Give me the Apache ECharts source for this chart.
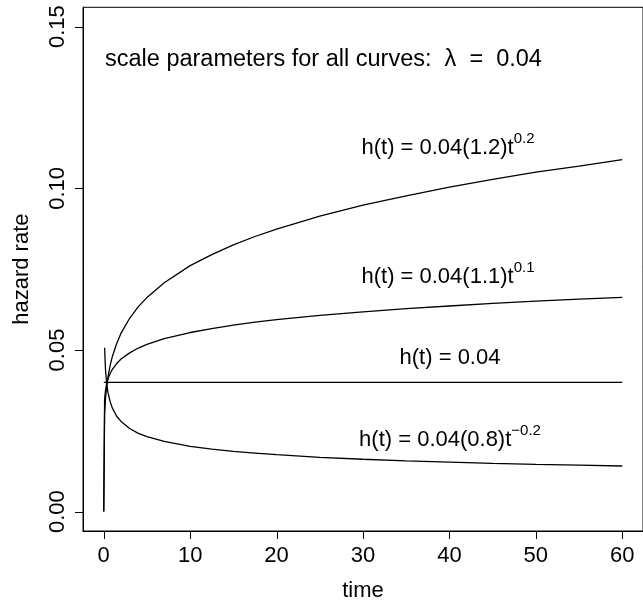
<!DOCTYPE html>
<html><head><meta charset="utf-8">
<script src="https://cdn.jsdelivr.net/npm/echarts@6/dist/echarts.min.js"></script>
<style>html,body{margin:0;padding:0;background:#fff}#c{width:643px;height:607px}</style>
</head><body><div id="c"></div>
<script>
// time points (t)
const times = [0, 0.1, 0.2, 0.3, 0.4, 0.5, 0.75, 1, 1.5, 2, 3, 4, 5, 7, 10, 12.5, 15, 17.5, 20, 25, 30, 35, 40, 45, 50, 55, 60];
// h(t) = 0.04(1.2)t^0.2
const hShape12 = [0, 0.0303, 0.0348, 0.0377, 0.0400, 0.0418, 0.0453, 0.0480, 0.0520, 0.0552, 0.0598, 0.0634, 0.0662, 0.0708, 0.0761, 0.0795, 0.0825, 0.0851, 0.0874, 0.0914, 0.0948, 0.0977, 0.1004, 0.1028, 0.1050, 0.1069, 0.1089];
// h(t) = 0.04(1.1)t^0.1
const hShape11 = [0, 0.0349, 0.0374, 0.0390, 0.0401, 0.0411, 0.0428, 0.0440, 0.0458, 0.0472, 0.0491, 0.0506, 0.0517, 0.0535, 0.0554, 0.0566, 0.0577, 0.0586, 0.0594, 0.0607, 0.0618, 0.0628, 0.0636, 0.0644, 0.0651, 0.0657, 0.0663];
// h(t) = 0.04
const hShape10 = [0.04, 0.04, 0.04, 0.04, 0.04, 0.04, 0.04, 0.04, 0.04, 0.04, 0.04, 0.04, 0.04, 0.04, 0.04, 0.04, 0.04, 0.04, 0.04, 0.04, 0.04, 0.04, 0.04, 0.04, 0.04, 0.04, 0.04];
// h(t) = 0.04(0.8)t^-0.2  (undefined at t = 0)
const hShape08 = [null, 0.0507, 0.0441, 0.0407, 0.0384, 0.0367, 0.0339, 0.0320, 0.0295, 0.0279, 0.0257, 0.0242, 0.0232, 0.0217, 0.0202, 0.0193, 0.0186, 0.0181, 0.0176, 0.0168, 0.0162, 0.0157, 0.0153, 0.0149, 0.0146, 0.0144, 0.0141];
// tick labels
const xTicks = [0, 10, 20, 30, 40, 50, 60];
const yTicks = [0, 0.05, 0.10, 0.15];

const FONT = 'Liberation Sans, Arial, Helvetica, sans-serif';
const pairs = arr => times.map((t, i) => arr[i] == null ? null : [t, arr[i]]).filter(p => p);

const supStyle = { fontSize: 15, fontFamily: FONT, fill: '#000', padding: [0, 0, 18, 0] };
const mainStyle = { fontSize: 22, fontFamily: FONT, fill: '#000' };
function label(x, y, parts) {
  return {
    type: 'text', x: x, y: y, silent: true,
    style: {
      text: parts, fontSize: 22, fontFamily: FONT, fill: '#000',
      textAlign: 'center', textVerticalAlign: 'middle',
      rich: { m: mainStyle, s: supStyle }
    }
  };
}

const chart = echarts.init(document.getElementById('c'), null, { renderer: 'canvas' });
const lineStyle = { color: '#000', width: 1.3 };
const XMIN = -2.4, YMIN = -0.006;
chart.setOption({
  animation: false,
  backgroundColor: '#fff',
  grid: { left: 83, top: 7.3, width: 562, height: 531, show: true, borderColor: '#000', borderWidth: 1, backgroundColor: 'transparent' },
  xAxis: {
    type: 'value', min: XMIN, max: 62.4, position: 'bottom',
    name: 'time', nameLocation: 'middle', nameGap: 49,
    nameTextStyle: { fontSize: 22, fontFamily: FONT, color: '#000' },
    axisLine: { show: true, onZero: false, lineStyle: { color: '#000', width: 1 } },
    axisTick: { show: false },
    axisLabel: { customValues: xTicks, fontSize: 22, fontFamily: FONT, color: '#000', margin: 14 },
    splitLine: { show: false }
  },
  yAxis: {
    type: 'value', min: YMIN, max: 0.156, position: 'left',
    name: 'hazard rate', nameLocation: 'middle', nameGap: 50,
    nameTextStyle: { fontSize: 22, fontFamily: FONT, color: '#000' },
    axisLine: { show: true, onZero: false, lineStyle: { color: '#000', width: 1 } },
    axisTick: { show: false },
    axisLabel: { customValues: yTicks, rotate: 90, fontSize: 22, fontFamily: FONT, color: '#000', margin: 14,
      formatter: v => v.toFixed(2) },
    splitLine: { show: false }
  },
  series: [
    { type: 'line', data: pairs(hShape12), showSymbol: false, lineStyle: lineStyle, silent: true },
    { type: 'line', data: pairs(hShape11), showSymbol: false, lineStyle: lineStyle, silent: true },
    { type: 'line', data: pairs(hShape10), showSymbol: false, lineStyle: lineStyle, silent: true },
    { type: 'line', data: pairs(hShape08), showSymbol: false, lineStyle: lineStyle, silent: true }
  ]
});

// tick marks placed through the axes' own scales
const tickLen = 8;
const tickEls = [];
xTicks.forEach(v => {
  const p = chart.convertToPixel({ gridIndex: 0 }, [v, YMIN]);
  const x = Math.round(p[0]) + 0.5;
  tickEls.push({ type: 'line', silent: true, shape: { x1: x, y1: p[1], x2: x, y2: p[1] + tickLen }, style: { stroke: '#000', lineWidth: 1 } });
});
yTicks.forEach(v => {
  const p = chart.convertToPixel({ gridIndex: 0 }, [XMIN, v]);
  const y = Math.round(p[1]) + 0.5;
  tickEls.push({ type: 'line', silent: true, shape: { x1: p[0] - tickLen, y1: y, x2: p[0], y2: y }, style: { stroke: '#000', lineWidth: 1 } });
});

chart.setOption({
  graphic: tickEls.concat([
    { type: 'text', x: 105, y: 60, silent: true,
      style: { text: 'scale parameters for all curves:  λ  =  0.04', fontSize: 23.5, fontFamily: FONT, fill: '#000', textAlign: 'left', textVerticalAlign: 'middle' } },
    label(448, 148, '{m|h(t) = 0.04(1.2)t}{s|0.2}'),
    label(448, 277, '{m|h(t) = 0.04(1.1)t}{s|0.1}'),
    label(450, 358, '{m|h(t) = 0.04}'),
    label(450, 440, '{m|h(t) = 0.04(0.8)t}{s|−0.2}')
  ])
});
</script>
</body></html>
